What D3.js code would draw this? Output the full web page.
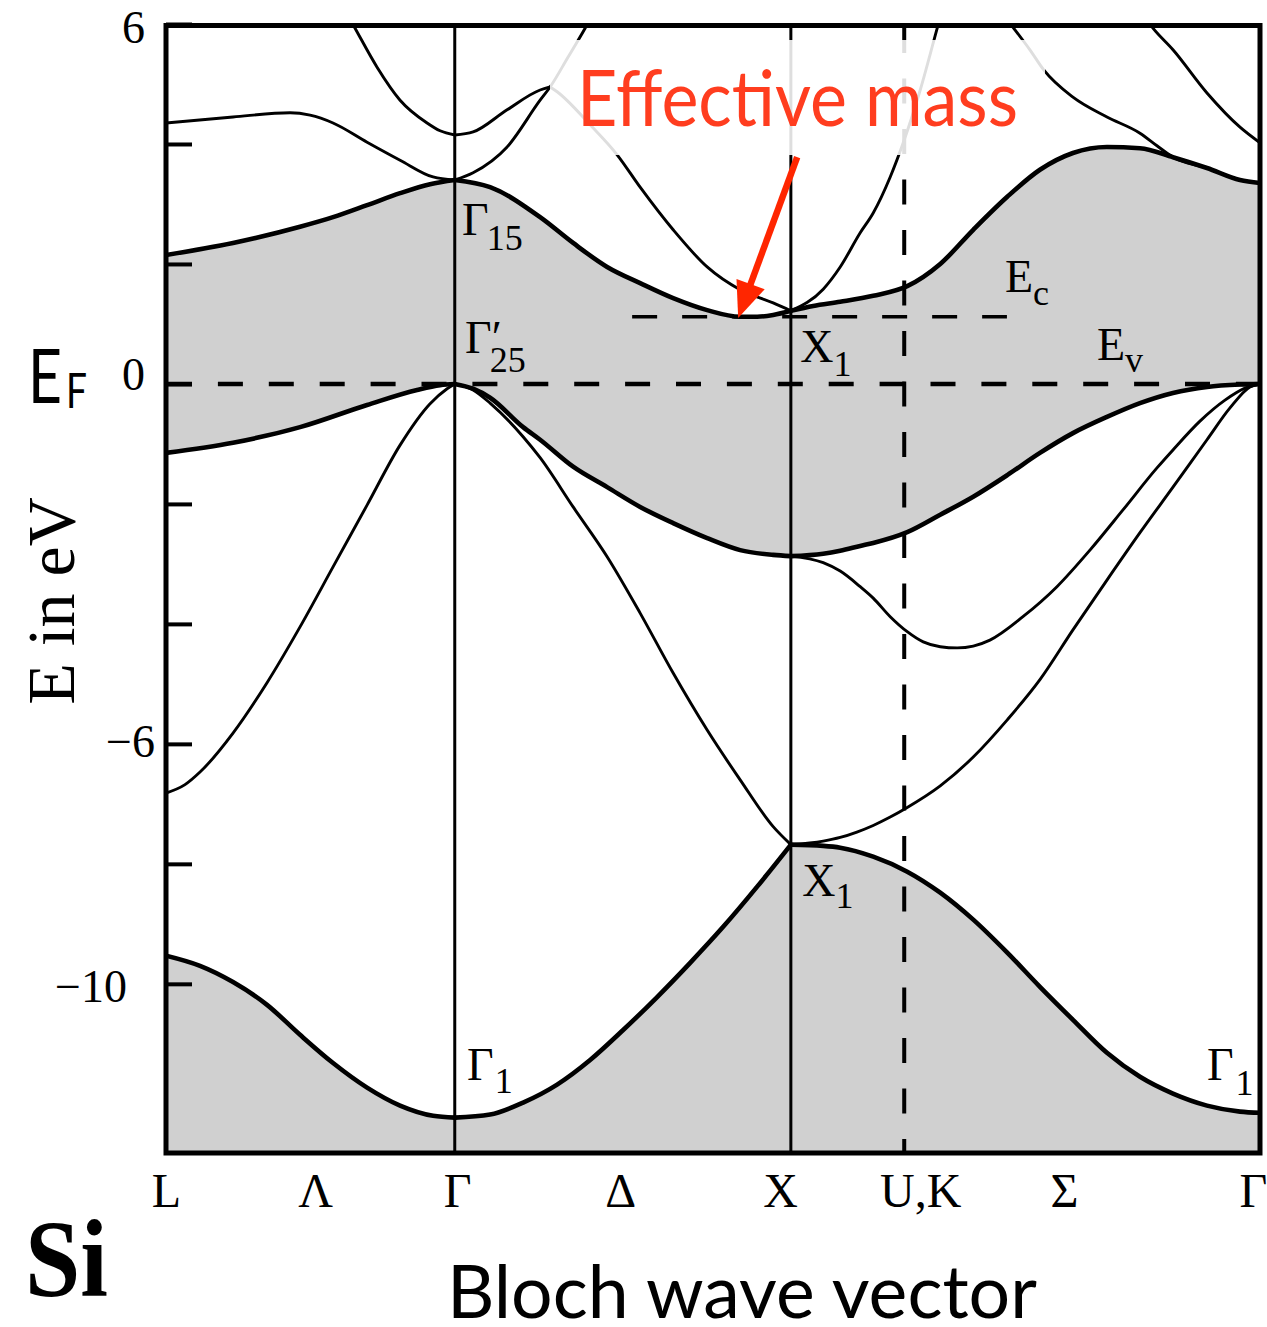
<!DOCTYPE html>
<html><head><meta charset="utf-8">
<script src="https://cdn.jsdelivr.net/npm/d3@7"></script>
<style>html,body{margin:0;padding:0;background:#fff;} svg{display:block;}</style>
</head><body>
<svg id="c" width="1267" height="1327"></svg>
<script>
// ---------- data (k in units of 2π/a along L–Γ–X–U,K–Γ, E in eV) ----------
const kSym = [0, 0.866, 1.874, 2.214, 3.281];          // L, Γ, X, U/K, Γ
const xLabels = ["L","Λ","Γ","Δ","X","U,K","Σ","Γ"];
const xLabelK = [0, 0.447, 0.873, 1.362, 1.842, 2.262, 2.693, 3.260];
const yTicks = [6,4,2,0,-2,-4,-6,-8,-10];
const yLabelled = [6,0,-6,-10];
const EcLevel = 1.12, EcSpan = [1.398, 2.522];
const EvLevel = 0;

// L–Γ
const lowL  = [[0,-9.53],[0.102,-9.70],[0.201,-9.97],[0.303,-10.35],[0.402,-10.85],[0.501,-11.32],[0.603,-11.73],[0.702,-12.03],[0.801,-12.20],[0.866,-12.23]];
const l1L   = [[0,-6.82],[0.057,-6.68],[0.102,-6.47],[0.201,-5.82],[0.303,-4.98],[0.402,-4.05],[0.501,-3.05],[0.603,-2.02],[0.702,-1.02],[0.792,-0.33],[0.843,-0.08],[0.866,0]];
const vtopL = [[0,-1.15],[0.201,-0.98],[0.402,-0.72],[0.603,-0.35],[0.753,-0.10],[0.822,-0.02],[0.866,0]];
const ctopL = [[0,2.15],[0.201,2.35],[0.402,2.62],[0.501,2.78],[0.603,2.98],[0.702,3.18],[0.792,3.33],[0.866,3.40]];
const l3L   = [[0,4.35],[0.201,4.45],[0.372,4.52],[0.432,4.48],[0.501,4.35],[0.603,4.03],[0.702,3.73],[0.801,3.45],[0.866,3.40]];
const topL  = [[0.537,6.23],[0.567,5.93],[0.633,5.28],[0.702,4.73],[0.783,4.35],[0.822,4.22],[0.866,4.15]];
// Γ–X
const a1X   = [[0.866,4.15],[0.921,4.20],[1.023,4.57],[1.122,4.90],[1.152,4.95]];
const a2X   = [[1.152,4.95],[1.173,4.87],[1.272,4.32],[1.353,3.82],[1.422,3.28],[1.521,2.57],[1.623,1.95],[1.722,1.57],[1.821,1.35],[1.874,1.22]];
const bX    = [[0.866,3.40],[0.921,3.52],[1.023,3.95],[1.122,4.73],[1.152,4.95],[1.206,5.45],[1.257,5.93],[1.281,6.17]];
const cbX   = [[0.866,3.40],[0.972,3.28],[1.122,2.78],[1.221,2.35],[1.323,1.95],[1.422,1.68],[1.521,1.43],[1.623,1.23],[1.722,1.12],[1.773,1.12],[1.821,1.15],[1.874,1.22]];
const vbX   = [[0.866,0],[0.921,-0.08],[0.972,-0.23],[1.071,-0.72],[1.122,-0.93],[1.221,-1.38],[1.323,-1.72],[1.422,-2.05],[1.521,-2.32],[1.623,-2.57],[1.722,-2.77],[1.821,-2.85],[1.874,-2.87]];
const v2X   = [[0.866,0],[0.921,-0.10],[0.972,-0.32],[1.071,-0.88],[1.122,-1.23],[1.221,-2.05],[1.323,-2.88],[1.422,-3.82],[1.521,-4.82],[1.623,-5.77],[1.722,-6.60],[1.821,-7.38],[1.874,-7.68]];
const lowX  = [[0.866,-12.23],[0.972,-12.18],[1.071,-11.98],[1.173,-11.68],[1.272,-11.27],[1.371,-10.77],[1.473,-10.22],[1.572,-9.65],[1.671,-9.05],[1.773,-8.38],[1.874,-7.68]];
// X–U,K–Γ
const vbS   = [[1.874,-2.87],[1.971,-2.83],[2.022,-2.78],[2.082,-2.70],[2.121,-2.65],[2.223,-2.47],[2.322,-2.18],[2.421,-1.88],[2.523,-1.52],[2.621,-1.15],[2.720,-0.82],[2.822,-0.55],[2.921,-0.32],[3.020,-0.15],[3.122,-0.05],[3.221,-0.01],[3.281,0]];
const v4S   = [[1.874,-2.87],[1.971,-2.98],[2.022,-3.12],[2.082,-3.38],[2.121,-3.57],[2.172,-3.88],[2.223,-4.13],[2.271,-4.30],[2.322,-4.38],[2.373,-4.40],[2.421,-4.37],[2.471,-4.27],[2.570,-3.88],[2.672,-3.38],[2.771,-2.77],[2.870,-2.10],[2.972,-1.40],[3.020,-1.10],[3.101,-0.62],[3.176,-0.27],[3.236,-0.07],[3.281,0]];
const v1S   = [[1.874,-7.68],[1.971,-7.62],[2.022,-7.56],[2.072,-7.47],[2.121,-7.36],[2.172,-7.22],[2.223,-7.06],[2.322,-6.70],[2.421,-6.22],[2.523,-5.60],[2.621,-4.93],[2.720,-4.10],[2.822,-3.27],[2.921,-2.48],[3.020,-1.72],[3.122,-0.93],[3.191,-0.40],[3.251,-0.05],[3.281,0]];
const lowS  = [[1.874,-7.68],[1.971,-7.70],[2.022,-7.73],[2.121,-7.88],[2.223,-8.13],[2.322,-8.48],[2.421,-8.93],[2.523,-9.48],[2.621,-10.05],[2.720,-10.60],[2.822,-11.15],[2.921,-11.55],[3.020,-11.83],[3.122,-12.03],[3.221,-12.13],[3.281,-12.15]];
const cbS   = [[1.874,1.22],[1.941,1.30],[2.022,1.37],[2.121,1.47],[2.223,1.63],[2.322,2.00],[2.421,2.57],[2.523,3.12],[2.621,3.57],[2.720,3.85],[2.822,3.95],[2.921,3.93],[3.020,3.78],[3.122,3.60],[3.221,3.40],[3.281,3.35]];
const c2S   = [[1.874,1.22],[1.971,1.58],[2.022,1.95],[2.082,2.52],[2.121,2.85],[2.172,3.45],[2.211,4.02],[2.262,4.90],[2.313,5.93],[2.325,6.17]];
const c3S   = [[2.501,6.23],[2.537,5.97],[2.591,5.57],[2.633,5.23],[2.720,4.78],[2.822,4.45],[2.921,4.18],[2.972,3.97],[3.020,3.78],[3.122,3.60],[3.221,3.40],[3.281,3.35]];
const c4S   = [[2.921,6.23],[2.960,5.93],[3.020,5.57],[3.122,4.85],[3.221,4.28],[3.281,4.02]];

// point labels
const symMain = ["Γ","Γ′","X","X","Γ","Γ","E","E"];
const symSub  = ["15","25","1","1","1","1","c","v"];
const symK    = [0.888, 0.897, 1.902, 1.908, 0.903, 3.122, 2.516, 2.792];
const symE    = [2.48, 0.52, 0.37, -8.53, -11.6, -11.6, 1.53, 0.40];

// annotation arrow (from, to) in (k, E)
const arrowFrom = [1.893, 3.78];
const arrowTo   = [1.716, 1.10];

// ---------- drawing ----------
const serif = "'Liberation Serif','Times New Roman',Times,serif";
const sans  = "Lato,'Open Sans','DejaVu Sans',sans-serif";
const svg = d3.select("#c");
const x = d3.scaleLinear().domain([kSym[0], kSym[4]]).range([166, 1260]);
const y = d3.scaleLinear().domain([5.975, -12.82]).range([25.5, 1153]);
const [X0, X1] = x.range(), [Y0, Y1] = y.range();
const GRAY = "#d0d0d0";

svg.append("defs").append("clipPath").attr("id","plot")
  .append("rect").attr("x",X0).attr("y",Y0).attr("width",X1-X0).attr("height",Y1-Y0);

const line = d3.line().x(d=>x(d[0])).y(d=>y(d[1])).curve(d3.curveMonotoneX);
const joined = segs => segs.map((s,i)=>{const p=line(s); return i? p.replace(/^M/,"L"):p;}).join("");
const toBottom = p => p + `L${X1},${Y1}L${X0},${Y1}Z`;

const plot = svg.append("g").attr("clip-path","url(#plot)");
// fills
plot.append("path").attr("d", toBottom(joined([ctopL,cbX,cbS]))).attr("fill",GRAY);
plot.append("path").attr("d", toBottom(joined([vtopL,vbX,vbS]))).attr("fill","#fff");
plot.append("path").attr("d", toBottom(joined([lowL,lowX,lowS]))).attr("fill",GRAY);

// symmetry lines
[kSym[1], kSym[2]].forEach(k=>{
  plot.append("line").attr("x1",x(k)).attr("x2",x(k)).attr("y1",Y0).attr("y2",Y1)
    .attr("stroke","#000").attr("stroke-width",3);
});
plot.append("line").attr("x1",x(kSym[3])).attr("x2",x(kSym[3])).attr("y1",28).attr("y2",Y1)
  .attr("stroke","#000").attr("stroke-width",4).attr("stroke-dasharray","25,25.5");
// Ev and Ec
plot.append("line").attr("x1",X0+1).attr("x2",X1).attr("y1",y(EvLevel)).attr("y2",y(EvLevel))
  .attr("stroke","#000").attr("stroke-width",4.5).attr("stroke-dasharray","25,25.9");
plot.append("line").attr("x1",x(EcSpan[0])).attr("x2",x(EcSpan[1])).attr("y1",y(EcLevel)).attr("y2",y(EcLevel))
  .attr("stroke","#000").attr("stroke-width",3.5).attr("stroke-dasharray","25,25");

// bands
const thin  = [l1L,l3L,topL,a1X,a2X,bX,v2X,v4S,v1S,c2S,c3S,c4S];
const thick = [lowL,vtopL,ctopL,cbX,vbX,lowX,vbS,lowS,cbS];
thin.forEach(b=>plot.append("path").attr("d",line(b)).attr("fill","none")
  .attr("stroke","#000").attr("stroke-width",2.9).attr("stroke-linecap","round"));
thick.forEach(b=>plot.append("path").attr("d",line(b)).attr("fill","none")
  .attr("stroke","#000").attr("stroke-width",4.6).attr("stroke-linecap","round"));

// frame
svg.append("rect").attr("x",X0).attr("y",Y0).attr("width",X1-X0).attr("height",Y1-Y0)
  .attr("fill","none").attr("stroke","#000").attr("stroke-width",5);

// y axis
const yAxis = d3.axisLeft(y).tickValues(yTicks).tickSizeInner(-26).tickSizeOuter(0).tickPadding(21)
  .tickFormat(d => yLabelled.includes(d) ? d3.format("d")(d) : "");
const gy = svg.append("g").attr("transform",`translate(${X0},0)`).call(yAxis);
gy.select(".domain").remove();
gy.selectAll(".tick line").attr("stroke","#000").attr("stroke-width",4);
gy.selectAll(".tick text").attr("font-family",serif).attr("font-size",46).attr("fill","#000");
const nudge = {"6":[0,4],"0":[0,-9],"-6":[10,-2],"-10":[-18,3]};
gy.selectAll(".tick text").attr("transform",d=>{const n=nudge[String(d)]||[0,0];return `translate(${n[0]},${n[1]})`;});

// x axis
const xAxis = d3.axisBottom(x).tickValues(xLabelK).tickFormat((d,i)=>xLabels[i]).tickSize(0).tickPadding(20);
const gx = svg.append("g").attr("transform",`translate(0,${Y1})`).call(xAxis);
gx.select(".domain").remove();
gx.selectAll(".tick text").attr("font-family",serif).attr("font-size",48).attr("fill","#000");

// point labels
const subDx = [-2,-12,0,0,1,2,0,0];
const subDy = [15,19,14,12,13,15,13,12];
symMain.forEach((m,i)=>{
  const t = svg.append("text").attr("x",x(symK[i])).attr("y",y(symE[i]))
    .attr("font-family",serif).attr("font-size",46).attr("fill","#000").text(m);
  const w = t.node().getComputedTextLength();
  svg.append("text").attr("x",x(symK[i])+w+subDx[i]).attr("y",y(symE[i])+subDy[i])
    .attr("font-family",serif).attr("font-size",36).attr("fill","#000").text(symSub[i]);
});

// "Effective mass" annotation with translucent backing box
const tx = 577, ty = 126;
svg.append("rect").attr("x",tx-27).attr("y",ty-86).attr("width",495).attr("height",115)
  .attr("fill","#fff").attr("opacity",0.87);
svg.append("text").attr("x",tx).attr("y",ty).attr("font-family",sans).attr("font-size",77)
  .attr("fill","#ff3d1f").attr("textLength",441).attr("lengthAdjust","spacingAndGlyphs").text("Effective mass");
{
  const p0=[x(arrowFrom[0]),y(arrowFrom[1])], p1=[x(arrowTo[0]),y(arrowTo[1])];
  const dx=p1[0]-p0[0], dy=p1[1]-p0[1], L=Math.hypot(dx,dy), u=[dx/L,dy/L], n=[-u[1],u[0]];
  const hl=36, hw=15;
  svg.append("line").attr("x1",p0[0]).attr("y1",p0[1]).attr("x2",p1[0]-u[0]*(hl-4)).attr("y2",p1[1]-u[1]*(hl-4))
    .attr("stroke","#ff2600").attr("stroke-width",6.5);
  const b=[p1[0]-u[0]*hl, p1[1]-u[1]*hl];
  svg.append("path").attr("d",`M${p1[0]},${p1[1]}L${b[0]+n[0]*hw},${b[1]+n[1]*hw}L${b[0]-n[0]*hw},${b[1]-n[1]*hw}Z`)
    .attr("fill","#ff2600");
}

// titles
svg.append("text").attr("transform","translate(74,601) rotate(-90)").attr("text-anchor","middle")
  .attr("font-family",serif).attr("font-size",68).attr("fill","#000").text("E in eV");
svg.append("text").attr("x",28).attr("y",403).attr("font-family",sans).attr("font-size",76)
  .attr("textLength",34).attr("lengthAdjust","spacingAndGlyphs").attr("fill","#000").text("E");
svg.append("text").attr("x",66).attr("y",408).attr("font-family",sans).attr("font-size",48)
  .attr("textLength",21).attr("lengthAdjust","spacingAndGlyphs").attr("fill","#000").text("F");
svg.append("text").attr("x",25).attr("y",1296).attr("font-family",serif).attr("font-weight","bold")
  .attr("font-size",110).attr("textLength",83).attr("lengthAdjust","spacingAndGlyphs").attr("fill","#000").text("Si");
svg.append("text").attr("x",447).attr("y",1318).attr("font-family",sans).attr("font-size",74)
  .attr("textLength",590).attr("lengthAdjust","spacingAndGlyphs").attr("fill","#000").text("Bloch wave vector");
</script>
</body></html>
